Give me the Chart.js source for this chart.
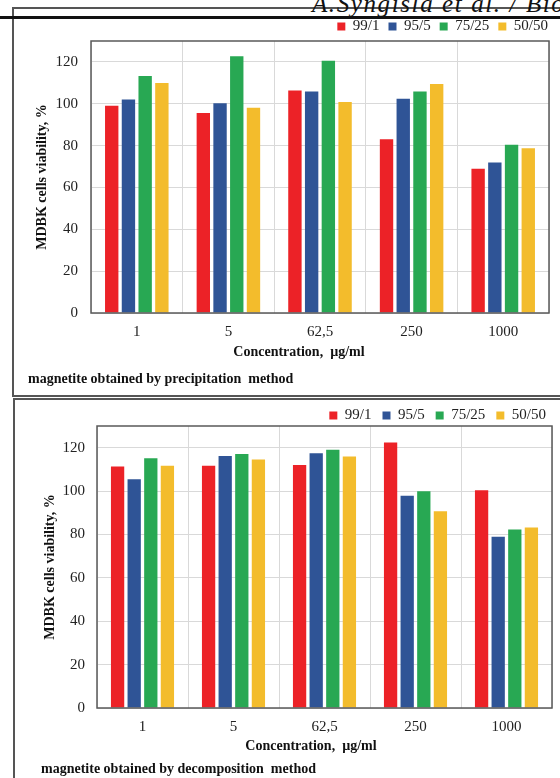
<!DOCTYPE html>
<html>
<head>
<meta charset="utf-8">
<script src="https://cdn.jsdelivr.net/npm/chart.js@4/dist/chart.umd.min.js"></script>
<style>
  html, body { margin: 0; padding: 0; background: #fff; width: 560px; height: 778px; overflow: hidden; }
  body { position: relative; }
  .frame { position: absolute; border: 2px solid #555; border-right: none; }
  #f1 { left: 12px; top: 7px; width: 560px; height: 386px; }
  #f2 { left: 13px; top: 398px; width: 560px; height: 400px; border-bottom: none; }
  #hline { position: absolute; left: 0; top: 16px; width: 560px; height: 3px; background: #111; }
  #head { position: absolute; left: 312px; top: -10px; font: italic 25px "Liberation Serif"; white-space: nowrap; letter-spacing: 1.6px; color: #111; }
  canvas { position: absolute; left: 0; }
  #c1 { top: 0; }
  #c2 { top: 396px; }
</style>
</head>
<body>
<div class="frame" id="f1"></div>
<div class="frame" id="f2"></div>
<div id="head">A.Syngisla et al. / Bio</div>
<div id="hline"></div>
<canvas id="c1" width="560" height="396"></canvas>
<canvas id="c2" width="560" height="382"></canvas>
<script>
const categories = ["1", "5", "62,5", "250", "1000"];
const seriesNames = ["99/1", "95/5", "75/25", "50/50"];
const seriesColors = ["#ec2227", "#2f5496", "#28a853", "#f3bc2c"];
const yTicks = [0, 20, 40, 60, 80, 100, 120];

// magnetite obtained by precipitation
const precip99 = [99.1, 95.6, 106.4, 83.1, 68.9];
const precip95 = [102.1, 100.2, 105.9, 102.4, 71.9];
const precip75 = [113.3, 122.7, 120.6, 105.9, 80.4];
const precip50 = [109.9, 98.1, 100.8, 109.4, 78.8];

// magnetite obtained by decomposition
const decomp99 = [111.3, 111.7, 112.0, 122.4, 100.4];
const decomp95 = [105.4, 116.2, 117.4, 97.8, 78.9];
const decomp75 = [115.1, 117.1, 119.1, 99.9, 82.3];
const decomp50 = [111.7, 114.6, 115.9, 90.7, 83.2];

Chart.defaults.font.family = '"Liberation Serif", "Times New Roman", serif';
Chart.defaults.color = '#222';

const extras = {
    id: 'extras',
    afterDraw(chart, args, o) {
        const {ctx, chartArea: a} = chart;
        ctx.save();
        ctx.strokeStyle = '#595959';
        ctx.lineWidth = 1.5;
        ctx.strokeRect(a.left, a.top, a.right - a.left, a.bottom - a.top);
        ctx.fillStyle = '#111';
        ctx.font = 'bold 14px "Liberation Serif"';
        ctx.textBaseline = 'middle';
        ctx.textAlign = 'center';
        ctx.fillText('Concentration,  \u00b5g/ml', o.titleX, o.titleY);
        ctx.textAlign = 'left';
        ctx.fillText(o.caption, o.capX, o.capY);
        ctx.restore();
    }
};

function makeChart(id, values, cfg) {
    return new Chart(document.getElementById(id), {
        type: 'bar',
        data: {
            labels: categories,
            datasets: seriesNames.map((name, i) => ({
                label: name,
                data: values[i],
                backgroundColor: seriesColors[i],
                categoryPercentage: 0.73,
                barPercentage: 0.8
            }))
        },
        options: {
            responsive: false,
            animation: false,
            layout: {padding: {left: cfg.padLeft, right: 3, top: cfg.padTop, bottom: 0}},
            plugins: {
                legend: {
                    align: 'end',
                    maxHeight: cfg.legendH,
                    labels: {boxWidth: 8, boxHeight: 8, padding: cfg.legendPad, color: '#222', font: {size: 15}}
                },
                tooltip: {enabled: false},
                extras: {titleX: cfg.titleX, titleY: cfg.titleY, caption: cfg.caption, capX: cfg.capX, capY: cfg.capY}
            },
            scales: {
                x: {
                    grid: {color: '#d9d9d9', drawTicks: false},
                    border: {display: false},
                    ticks: {padding: 10, font: {size: 15}},
                    afterFit: s => { s.height = cfg.xH; }
                },
                y: {
                    min: 0, max: 130,
                    afterBuildTicks: s => { s.ticks = yTicks.map(v => ({value: v})); },
                    grid: {color: '#d9d9d9', drawTicks: false},
                    border: {display: false},
                    ticks: {padding: cfg.yPad, font: {size: 15}},
                    title: {display: true, text: 'MDBK cells viability, %', color: '#111', font: {size: 14, weight: 'bold'}},
                    afterFit: s => { s.width = cfg.yW; }
                },
                y2: {
                    type: 'linear', position: 'right', min: 0, max: 1,
                    grid: {display: false}, border: {display: false}, ticks: {display: false},
                    afterFit: s => { s.width = cfg.rightW; }
                }
            }
        },
        plugins: [extras]
    });
}

makeChart('c1', [precip99, precip95, precip75, precip50], {
    padLeft: 30, padTop: 10, yW: 61, yPad: 13, rightW: 8, xH: 83,
    legendH: 31, legendPad: 9,
    titleX: 299, titleY: 352, caption: 'magnetite obtained by precipitation  method', capX: 28, capY: 379
});
makeChart('c2', [decomp99, decomp95, decomp75, decomp50], {
    padLeft: 38, padTop: 1, yW: 59, yPad: 12, rightW: 5, xH: 70,
    legendH: 29, legendPad: 11,
    titleX: 311, titleY: 350, caption: 'magnetite obtained by decomposition  method', capX: 41, capY: 373
});
</script>
</body>
</html>
